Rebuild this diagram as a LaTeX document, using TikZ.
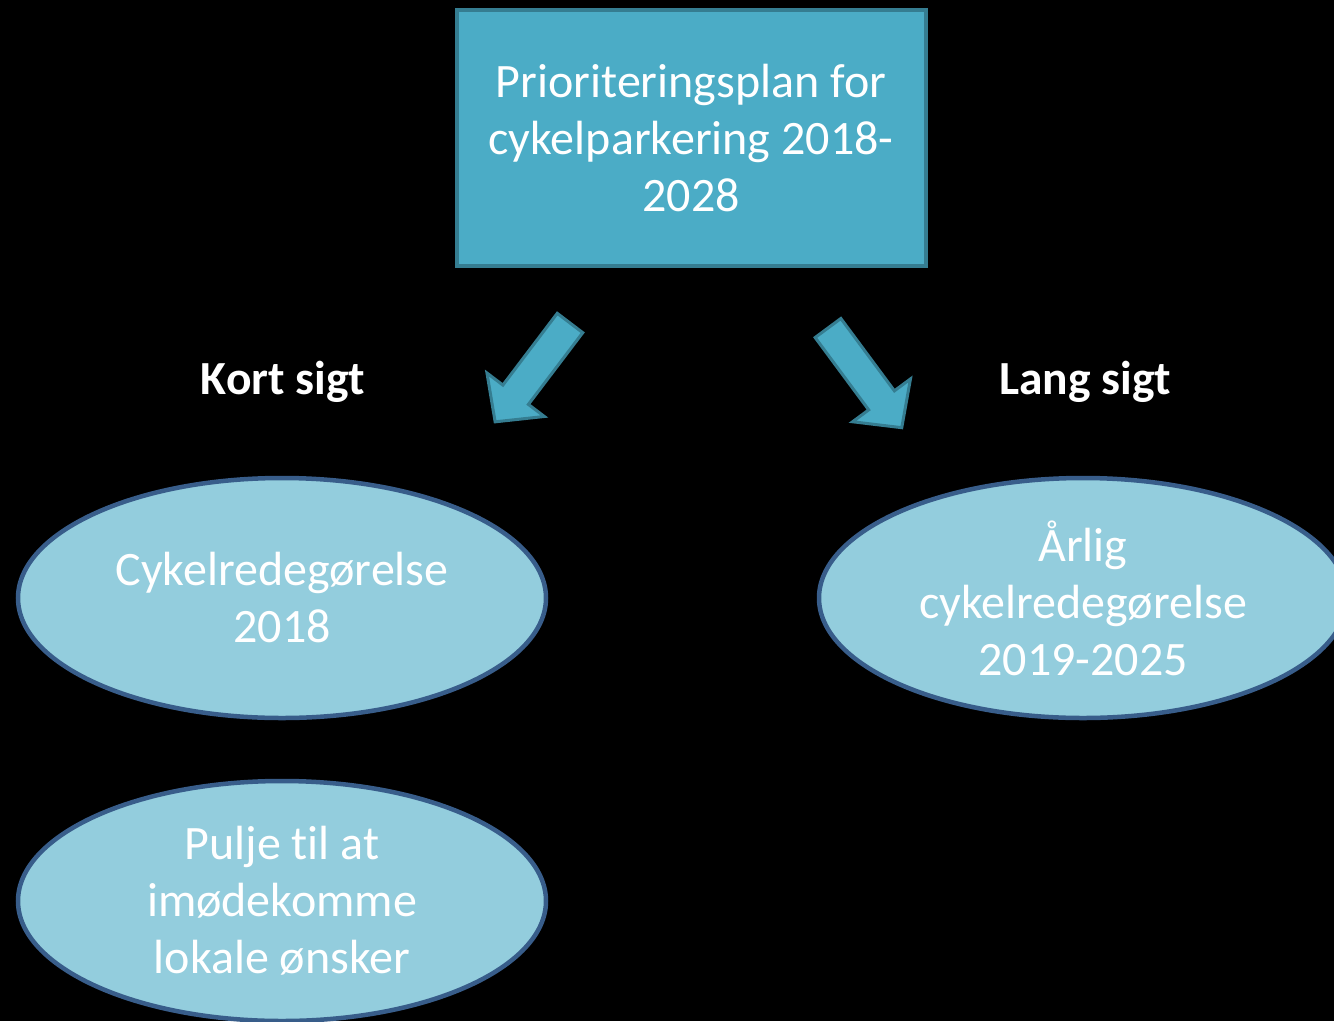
\documentclass[tikz,border=0pt]{standalone}
\usepackage{fontspec}
\setmainfont{Carlito}[Ligatures={NoCommon}]
\usetikzlibrary{shapes.geometric}
\definecolor{boxfill}{HTML}{4BACC6}
\definecolor{boxline}{HTML}{357D91}
\definecolor{ellfill}{HTML}{93CDDD}
\definecolor{ellline}{HTML}{385D8A}
\tikzset{
  planbox/.style={draw=boxline, line width=4pt, fill=boxfill, minimum width=469pt, minimum height=256pt, inner sep=0pt, text=white, align=center, font=\fontsize{48}{57}\selectfont},
  ellnode/.style={ellipse, draw=ellline, line width=4.5pt, fill=ellfill, minimum width=528pt, minimum height=240pt, inner sep=0pt, text=white, align=center, font=\fontsize{48}{57}\selectfont},
  termlabel/.style={text=white, font=\fontsize{47.5}{57}\selectfont\bfseries},
  blockarrow/.style={draw=boxline, line width=3pt, fill=boxfill, line join=miter}
}
\begin{document}
\begin{tikzpicture}[x=1pt,y=1pt]
\useasboundingbox (0,0) rectangle (1334,-1021);
\clip (0,0) rectangle (1334,-1021);
\fill[black] (0,0) rectangle (1334,-1021);

\node[planbox] (plan) at (691,-138) {Prioriteringsplan for\\cykelparkering 2018-\\2028};

\node[termlabel] (kort) at (283,-382) {Kort sigt};
\node[termlabel] (lang) at (1085,-382) {Lang sigt};

\node[ellnode] (cyk) at (282,-598) {Cykelredegørelse\\2018};
\node[ellnode] (aar) at (1083,-598) {Årlig\\cykelredegørelse\\2019-2025};
\node[ellnode] (pulje) at (282,-901) {Pulje til at\\imødekomme\\lokale ønsker};

% block arrows
\begin{scope}[shift={(570,-323)}, rotate=232.85]
  \filldraw[blockarrow] (0,16) -- (90,16) -- (90,36) -- (124,0) -- (90,-36) -- (90,-16) -- (0,-16) -- cycle;
\end{scope}
\begin{scope}[shift={(828,-328)}, rotate=-53.5]
  \filldraw[blockarrow] (0,16) -- (90,16) -- (90,36) -- (124,0) -- (90,-36) -- (90,-16) -- (0,-16) -- cycle;
\end{scope}
\end{tikzpicture}
\end{document}
